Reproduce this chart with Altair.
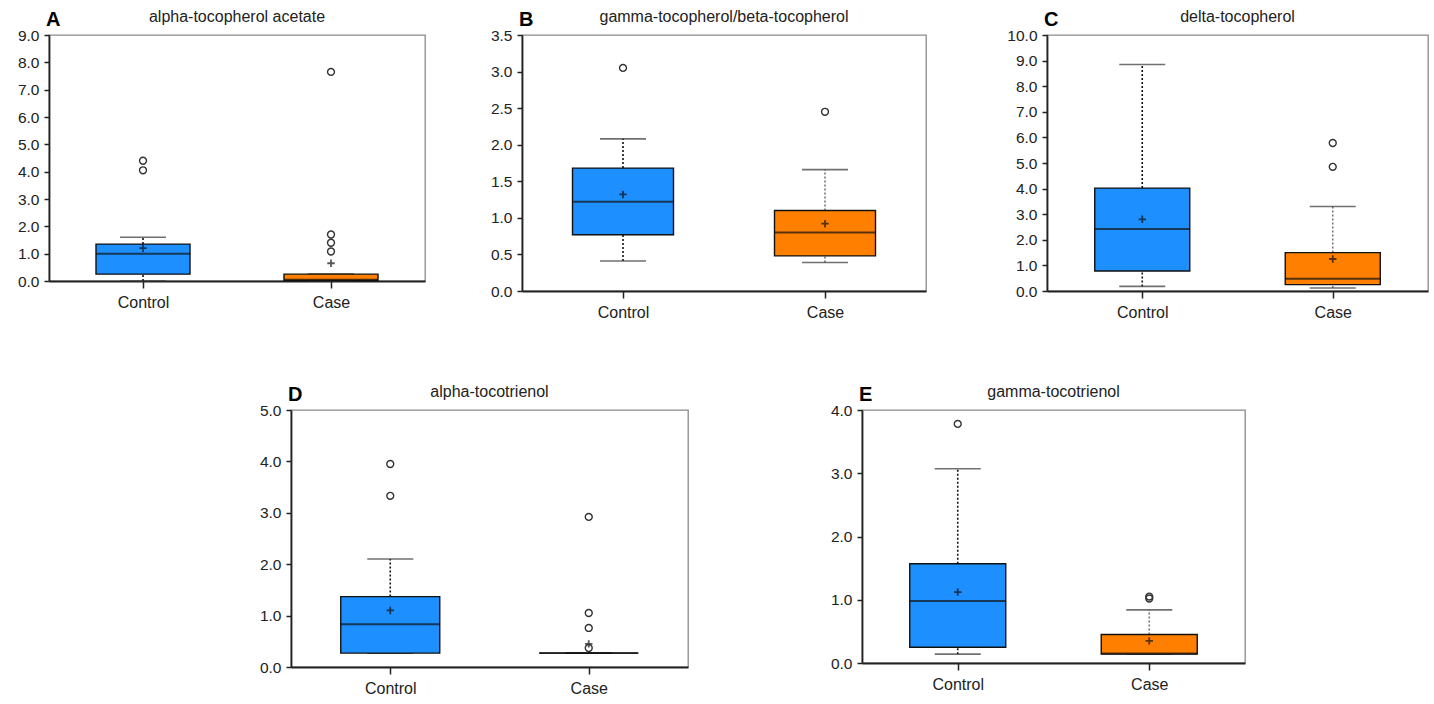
import altair as alt
import numpy as np
import pandas as pd

FONT = "Liberation Sans"
BLUE = "#1E8FFF"
ORANGE = "#FF8000"

PANELS = ["A", "B", "C", "D", "E"]
TITLES = ["alpha-tocopherol acetate", "gamma-tocopherol/beta-tocopherol",
          "delta-tocopherol", "alpha-tocotrienol", "gamma-tocotrienol"]
GROUPS = ["Control", "Case"]
Y_MAX = [9.0, 3.5, 10.0, 5.0, 4.0]
Y_STEP = [1.0, 0.5, 1.0, 1.0, 1.0]

# each entry: [Control, Case]
WHISK_LO = [[0.0, 0.0], [0.41, 0.39], [0.18, 0.12], [0.27, 0.27], [0.14, 0.14]]
Q1 = [[0.25, 0.02], [0.77, 0.48], [0.78, 0.25], [0.27, 0.27], [0.25, 0.14]]
MEDIAN = [[1.0, 0.05], [1.22, 0.80], [2.42, 0.48], [0.83, 0.27], [0.98, 0.15]]
Q3 = [[1.35, 0.25], [1.68, 1.10], [4.02, 1.50], [1.37, 0.27], [1.57, 0.45]]
WHISK_HI = [[1.6, 0.25], [2.08, 1.66], [8.85, 3.30], [2.10, 0.27], [3.07, 0.84]]
MEAN = [[1.2, 0.65], [1.32, 0.92], [2.80, 1.25], [1.10, 0.45], [1.12, 0.35]]
OUTLIERS = [
    [[4.4, 4.05], [7.65, 1.7, 1.4, 1.08]],
    [[3.05], [2.45]],
    [[], [5.78, 4.85]],
    [[3.95, 3.33], [2.92, 1.05, 0.76, 0.37]],
    [[3.78], [1.05, 1.02]],
]

WIDTHS = [376, 404, 381, 397, 383]
HEIGHTS = [246, 256, 256, 257, 253]

ctrl_dark = alt.condition("datum.group == 'Control'", alt.value("#111"), alt.value("#777"))


def panel(i):
    stats = pd.DataFrame({
        "group": GROUPS, "lo": WHISK_LO[i], "q1": Q1[i], "med": MEDIAN[i],
        "q3": Q3[i], "hi": WHISK_HI[i], "mean": MEAN[i],
    })
    out = pd.DataFrame([{"group": g, "v": v}
                        for gi, g in enumerate(GROUPS) for v in OUTLIERS[i][gi]])
    w, h = WIDTHS[i], HEIGHTS[i]
    bw = round(0.25 * w)
    ticks = [round(float(t), 2) for t in np.arange(0, Y_MAX[i] + 1e-9, Y_STEP[i])]

    x = alt.X("group:N", sort=GROUPS,
              scale=alt.Scale(type="point", padding=0.5),
              axis=alt.Axis(title=None, labelAngle=0, labelFontSize=16,
                            tickSize=7, labelPadding=6, grid=False))
    ysc = alt.Scale(domain=[0, Y_MAX[i]], nice=False, zero=True)
    yax = alt.Axis(title=None, values=ticks, format=".1f", grid=False,
                   labelFontSize=15.5, tickSize=5, labelPadding=5)

    base = alt.Chart(stats)
    whisk_lo = base.mark_rule(strokeDash=[2, 2], strokeWidth=1.6).encode(
        x=x, y=alt.Y("lo:Q", scale=ysc, axis=yax), y2="q1:Q", color=ctrl_dark)
    whisk_hi = base.mark_rule(strokeDash=[2, 2], strokeWidth=1.6).encode(
        x=x, y=alt.Y("q3:Q", scale=ysc, axis=yax), y2="hi:Q", color=ctrl_dark)
    cap_lo = base.mark_tick(size=46, thickness=1.6, color="#333").encode(
        x=x, y=alt.Y("lo:Q", scale=ysc, axis=yax))
    cap_hi = base.mark_tick(size=46, thickness=1.6, color="#333").encode(
        x=x, y=alt.Y("hi:Q", scale=ysc, axis=yax))
    box = base.mark_bar(size=bw, stroke="#111", strokeWidth=1.4).encode(
        x=x, y=alt.Y("q1:Q", scale=ysc, axis=yax), y2="q3:Q",
        color=alt.Color("group:N", scale=alt.Scale(domain=GROUPS, range=[BLUE, ORANGE]),
                        legend=None))
    med = base.mark_tick(size=bw, thickness=2, color="#111").encode(
        x=x, y=alt.Y("med:Q", scale=ysc, axis=yax))
    mean = base.mark_point(shape="M-1,0L1,0M0,-1L0,1", size=55, filled=False,
                           strokeWidth=1.8, color="#111").encode(
        x=x, y=alt.Y("mean:Q", scale=ysc, axis=yax))
    outl = alt.Chart(out).mark_point(shape="circle", size=48, filled=False,
                                     strokeWidth=1.4, color="#333", opacity=1).encode(
        x=x, y=alt.Y("v:Q", scale=ysc, axis=yax))
    lab = pd.DataFrame({"letter": [PANELS[i]], "title": [TITLES[i]]})
    letter = alt.Chart(lab).mark_text(
        align="left", baseline="alphabetic", fontSize=20, fontWeight="bold",
        font=FONT, color="#000").encode(
        x=alt.value(-3), y=alt.value(-9), text="letter:N")
    title = alt.Chart(lab).mark_text(
        align="center", baseline="alphabetic", fontSize=16,
        font=FONT, color="#222").encode(
        x=alt.value(w / 2), y=alt.value(-13), text="title:N")

    return alt.layer(whisk_lo, whisk_hi, cap_lo, cap_hi, box, med, mean, outl,
                     letter, title).properties(width=w, height=h)


def spacer(w):
    return alt.Chart(pd.DataFrame({"a": [0]})).mark_point(opacity=0).encode(
        x=alt.value(0), y=alt.value(0)
    ).properties(width=w, height=10, view=alt.ViewBackground(stroke="transparent"))


A, B, C, D, E = [panel(i) for i in range(5)]

row1 = alt.hconcat(A, spacer(73), B, spacer(97), C, spacing=12, bounds="flush")
row2 = alt.hconcat(spacer(230), D, spacer(150), E, spacing=12, bounds="flush")

chart = alt.vconcat(row1, row2, spacing=375, bounds="flush").configure_view(
    stroke="#8a8a8a", strokeWidth=1.3
).configure_axis(
    domainColor="#222", domainWidth=1.8, tickColor="#222", tickWidth=1.5,
    labelFont=FONT, labelColor="#222"
).properties(
    padding={"left": 16, "top": 8, "right": 0, "bottom": 0},
    background="white",
)

chart.save("out.html", embed_options={"renderer": "svg", "actions": False})
